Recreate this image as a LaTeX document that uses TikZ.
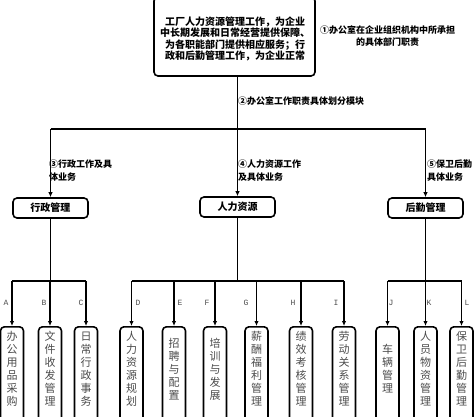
\documentclass[tikz,border=0pt]{standalone}
\usepackage{fontspec}
\setmainfont{Noto Sans CJK SC}
\newfontfamily\monofnt{Liberation Mono}
\usetikzlibrary{arrows.meta}
\tikzset{
  frame/.style={draw=black, line width=1.6pt, rounded corners=4pt, inner sep=0pt},
  midbox/.style={frame, minimum width=75pt, minimum height=20pt, font=\fontsize{10}{12}\selectfont\bfseries},
  leafbox/.style={frame, minimum width=23pt, minimum height=94pt, anchor=north},
  leaftext/.style={align=center, inner sep=0pt, text=black!70, font=\fontsize{11}{13}\selectfont},
  note/.style={align=left, inner sep=0pt, anchor=west, font=\fontsize{9}{12.5}\selectfont\bfseries},
  letter/.style={inner sep=0pt, text=black!70, font=\monofnt\fontsize{8}{9}\selectfont},
  conn/.style={line width=1.3pt},
  arr/.style={conn, -{Latex[length=5pt,width=4.5pt]}}
}
\begin{document}
\begin{tikzpicture}[x=1pt,y=-1pt]
\useasboundingbox (0,0) rectangle (474,417);
\clip (0,0) rectangle (474,417);
\fill[white] (0,0) rectangle (474,417);

% top box
\node[frame, minimum width=161pt, minimum height=79pt] (top) at (234.5,36.5) {};
\node[align=center, inner sep=0pt, font=\fontsize{10}{11.6}\selectfont\bfseries] (toptext) at (235,39)
  {工厂人力资源管理工作，为企业\\中长期发展和日常经营提供保障、\\为各职能部门提供相应服务；行\\政和后勤管理工作，为企业正常};
\node[align=center, inner sep=0pt, font=\fontsize{9}{12}\selectfont\bfseries] (n1) at (387.5,36)
  {①办公室在企业组织机构中所承担\\的具体部门职责};

% second level
\node[midbox] (xz) at (50.5,208) {行政管理};
\node[midbox] (hr) at (237.5,207) {人力资源};
\node[midbox] (hq) at (425.5,208) {后勤管理};

\coordinate (bus) at (238,129);
\draw[arr] (top.south -| hr.north) -- (hr.north);
\draw[conn] (xz.north |- bus) -- (hq.north |- bus);
\draw[arr] (xz.north |- bus) -- (xz.north);
\draw[arr] (hq.north |- bus) -- (hq.north);

\node[note] (n2) at (238,101) {②办公室工作职责具体划分模块};
\node[note] (n3) at (49,170.5) {③行政工作及具\\体业务};
\node[note] (n4) at (238,170.5) {④人力资源工作\\及具体业务};
\node[note] (n5) at (427,170.5) {⑤保卫后勤\\具体业务};

% leaves
\foreach \n/\x/\t in {A/12/{办\\公\\用\\品\\采\\购},
                      B/50/{文\\件\\收\\发\\管\\理},
                      C/86/{日\\常\\行\\政\\事\\务},
                      D/131.5/{人\\力\\资\\源\\规\\划},
                      E/174/{招\\聘\\与\\配\\置},
                      F/215/{培\\训\\与\\发\\展},
                      G/256.5/{薪\\酬\\福\\利\\管\\理},
                      H/301/{绩\\效\\考\\核\\管\\理},
                      I/344/{劳\\动\\关\\系\\管\\理},
                      J/387.5/{车\\辆\\管\\理},
                      K/425.5/{人\\员\\物\\资\\管\\理},
                      L/461.5/{保\\卫\\后\\勤\\管\\理}}{
  \node[leafbox] (\n) at (\x,326) {};
  \node[leaftext] (\n t) at (\x,369) {\t};
}

\coordinate (bus2) at (0,281);
\draw[conn] (xz.south) -- (xz.south |- bus2);
\draw[conn] (hr.south) -- (hr.south |- bus2);
\draw[conn] (hq.south) -- (hq.south |- bus2);
\draw[conn] (A.north |- bus2) -- (C.north |- bus2);
\draw[conn] (D.north |- bus2) -- (I.north |- bus2);
\draw[conn] (J.north |- bus2) -- (L.north |- bus2);
\foreach \n in {A,B,C,D,E,F,G,H,I,J,K,L}{
  \draw[arr] (\n.north |- bus2) -- (\n.north);
}

% letters
\foreach \l/\x in {A/6,B/44,C/81,D/138,E/180,F/207,G/246,H/293,I/336,J/391,K/429,L/467}{
  \node[letter] (lab\l) at (\x,303) {\l};
}
\end{tikzpicture}
\end{document}
